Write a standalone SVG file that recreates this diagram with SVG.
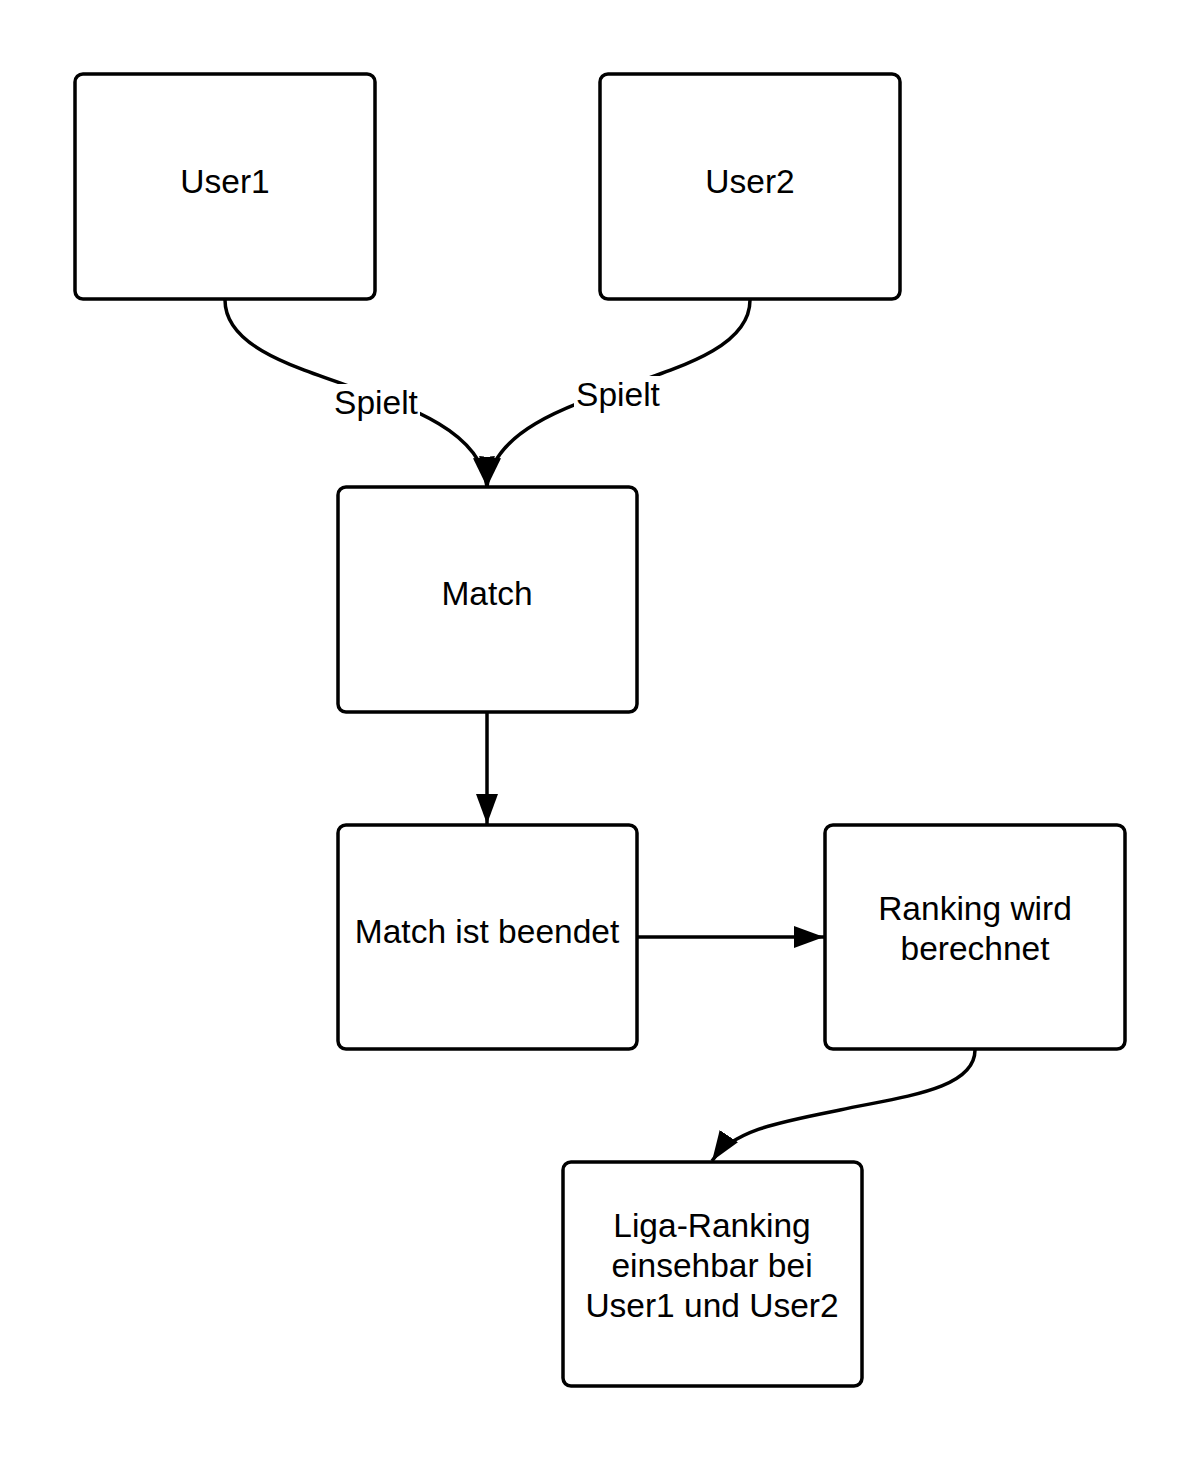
<svg xmlns="http://www.w3.org/2000/svg" width="1200" height="1463" viewBox="0 0 1200 1463">
<style>
.box{fill:#fff;stroke:#000;stroke-width:3.5}
.t{font-family:"Liberation Sans",Arial,sans-serif;font-size:33.5px;fill:#000;text-anchor:middle}
.c{fill:none;stroke:#000;stroke-width:3.5}
.lbg{fill:#fff}
</style>
<defs>
<marker id="ah" viewBox="0 0 30 22" refX="30" refY="11" markerWidth="30" markerHeight="22" markerUnits="userSpaceOnUse" orient="auto">
<path d="M0,0 L30,11 L0,22 Z" fill="#000"/>
</marker>
</defs>
<rect width="1200" height="1463" fill="#fff"/>
<g id="connectors">
<path class="c" d="M225,300 C225,390 476,380 487,487" marker-end="url(#ah)"/>
<path class="c" d="M750,300 C750,390 498,380 487,487" marker-end="url(#ah)"/>
<path class="c" d="M487,713 L487,824" marker-end="url(#ah)"/>
<path class="c" d="M638,937 L824,937" marker-end="url(#ah)"/>
<path class="c" d="M975,1050 C975,1090 900,1097 840,1110 C780,1122 733,1130 712,1161" marker-end="url(#ah)"/>
<rect class="lbg" x="332" y="384" width="88" height="36"/>
<text class="t" x="376" y="414">Spielt</text>
<rect class="lbg" x="574" y="376" width="88" height="36"/>
<text class="t" x="618" y="406">Spielt</text>
</g>
<g id="user1"><rect class="box" x="75" y="74" width="300" height="225" rx="8"/><text class="t" x="225" y="193">User1</text></g>
<g id="user2"><rect class="box" x="600" y="74" width="300" height="225" rx="8"/><text class="t" x="750" y="193">User2</text></g>
<g id="match"><rect class="box" x="338" y="487" width="299" height="225" rx="8"/><text class="t" x="487" y="605">Match</text></g>
<g id="beendet"><rect class="box" x="338" y="825" width="299" height="224" rx="8"/><text class="t" x="487" y="943">Match ist beendet</text></g>
<g id="ranking"><rect class="box" x="825" y="825" width="300" height="224" rx="8"/><text class="t" x="975" y="920">Ranking wird</text><text class="t" x="975" y="960">berechnet</text></g>
<g id="liga"><rect class="box" x="563" y="1162" width="299" height="224" rx="8"/><text class="t" x="712" y="1237">Liga-Ranking</text><text class="t" x="712" y="1277">einsehbar bei</text><text class="t" x="712" y="1317">User1 und User2</text></g>
</svg>
